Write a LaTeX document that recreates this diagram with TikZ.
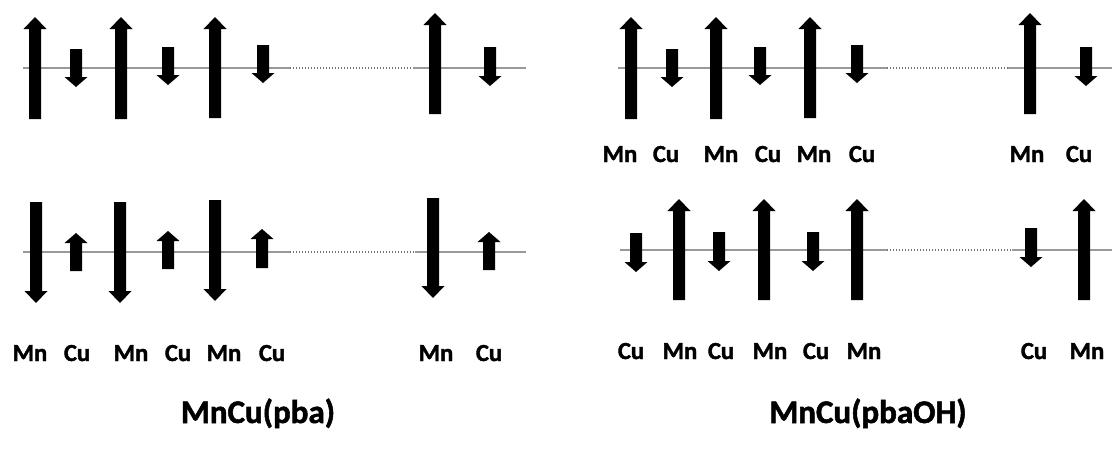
\documentclass[tikz,border=0pt]{standalone}
\usepackage{fontspec}
\setmainfont{Carlito}
\newfontfamily\labelfont{Carlito}[UprightFont=*-Bold,FakeBold=1.6]
\begin{document}
\begin{tikzpicture}[x=1pt,y=-1pt,
  axis/.style={draw=black!40,line width=1.1pt},
  gap/.style={draw=black!55,line width=1.3pt,dash pattern=on 1.3pt off 1.7pt},
  atom/.style={font=\labelfont\fontsize{24.5}{27}\selectfont,anchor=base,inner sep=0pt},
  title/.style={font=\labelfont\fontsize{33}{36}\selectfont,anchor=base,inner sep=0pt}]
\useasboundingbox (0,0) rectangle (1112,450);
% spin arrow: x, tail y, tip y, head length (signed towards the tail)
\newcommand\spinarrow[4]{%
  \fill[black] ({#1-6},{#2}) -- ({#1-6},{#3+#4}) -- ({#1-11.5},{#3+#4}) --
    ({#1},{#3}) -- ({#1+11.5},{#3+#4}) -- ({#1+6},{#3+#4}) -- ({#1+6},{#2}) -- cycle;}

% ---------- chain axes ----------
\coordinate (a1) at (23,68);  \coordinate (a2) at (290,68);
\coordinate (a3) at (413,68); \coordinate (a4) at (526,68);
\draw[axis] (a1) -- (a2); \draw[gap] (a2) -- (a3); \draw[axis] (a3) -- (a4);

\coordinate (b1) at (618,68);  \coordinate (b2) at (887,68);
\coordinate (b3) at (1008,68); \coordinate (b4) at (1112,68);
\draw[axis] (b1) -- (b2); \draw[gap] (b2) -- (b3); \draw[axis] (b3) -- (b4);

\coordinate (c1) at (23,252);  \coordinate (c2) at (290,252);
\coordinate (c3) at (415,252); \coordinate (c4) at (526,252);
\draw[axis] (c1) -- (c2); \draw[gap] (c2) -- (c3); \draw[axis] (c3) -- (c4);

\coordinate (d1) at (620,250);  \coordinate (d2) at (887,250);
\coordinate (d3) at (1012,250); \coordinate (d4) at (1112,250);
\draw[axis] (d1) -- (d2); \draw[gap] (d2) -- (d3); \draw[axis] (d3) -- (d4);

% ---------- MnCu(pba), upper chain ----------
\spinarrow{35}{119}{17}{12}
\spinarrow{121}{119}{17}{12}
\spinarrow{215}{118}{17}{12}
\spinarrow{435}{114}{13}{12}
\spinarrow{76}{49}{87}{-10}
\spinarrow{168}{47}{85}{-10}
\spinarrow{263}{45}{83}{-10}
\spinarrow{490}{47}{86}{-10}

% ---------- MnCu(pba), lower chain ----------
\spinarrow{36}{202}{303}{-12}
\spinarrow{120}{202}{303}{-12}
\spinarrow{215}{200}{301}{-12}
\spinarrow{433}{198}{298}{-12}
\spinarrow{76}{271}{233}{10}
\spinarrow{168}{269}{231}{10}
\spinarrow{262}{268}{229}{10}
\spinarrow{489}{270}{232}{10}

\node[atom] (l1) at (30,361) {Mn};
\node[atom] (l2) at (77,361) {Cu};
\node[atom] (l3) at (131,361) {Mn};
\node[atom] (l4) at (178,361) {Cu};
\node[atom] (l5) at (224,361) {Mn};
\node[atom] (l6) at (272,361) {Cu};
\node[atom] (l7) at (436,361) {Mn};
\node[atom] (l8) at (489,361) {Cu};

% ---------- MnCu(pbaOH), upper chain ----------
\spinarrow{631}{119}{17}{12}
\spinarrow{716}{119}{17}{12}
\spinarrow{810}{118}{17}{12}
\spinarrow{1030}{114}{13}{12}
\spinarrow{672}{49}{87}{-10}
\spinarrow{760}{47}{85}{-10}
\spinarrow{857}{45}{83}{-10}
\spinarrow{1086}{47}{86}{-10}

\node[atom] (u1) at (620,162) {Mn};
\node[atom] (u2) at (666,162) {Cu};
\node[atom] (u3) at (721,162) {Mn};
\node[atom] (u4) at (768,162) {Cu};
\node[atom] (u5) at (814,162) {Mn};
\node[atom] (u6) at (862,162) {Cu};
\node[atom] (u7) at (1027,162) {Mn};
\node[atom] (u8) at (1079,162) {Cu};

% ---------- MnCu(pbaOH), lower chain ----------
\spinarrow{636}{233}{272}{-10}
\spinarrow{719}{232}{271}{-10}
\spinarrow{813}{232}{271}{-10}
\spinarrow{1031}{228}{267}{-10}
\spinarrow{679}{300}{199}{12}
\spinarrow{764}{300}{199}{12}
\spinarrow{857}{300}{199}{12}
\spinarrow{1084}{300}{199}{12}

\node[atom] (r1) at (631,359) {Cu};
\node[atom] (r2) at (680,359) {Mn};
\node[atom] (r3) at (721,359) {Cu};
\node[atom] (r4) at (770,359) {Mn};
\node[atom] (r5) at (816,359) {Cu};
\node[atom] (r6) at (864,359) {Mn};
\node[atom] (r7) at (1034,359) {Cu};
\node[atom] (r8) at (1087,359) {Mn};

% ---------- compound names ----------
\node[title] (t1) at (258,423) {MnCu(pba)};
\node[title] (t2) at (868,423) {MnCu(pbaOH)};
\end{tikzpicture}
\end{document}
